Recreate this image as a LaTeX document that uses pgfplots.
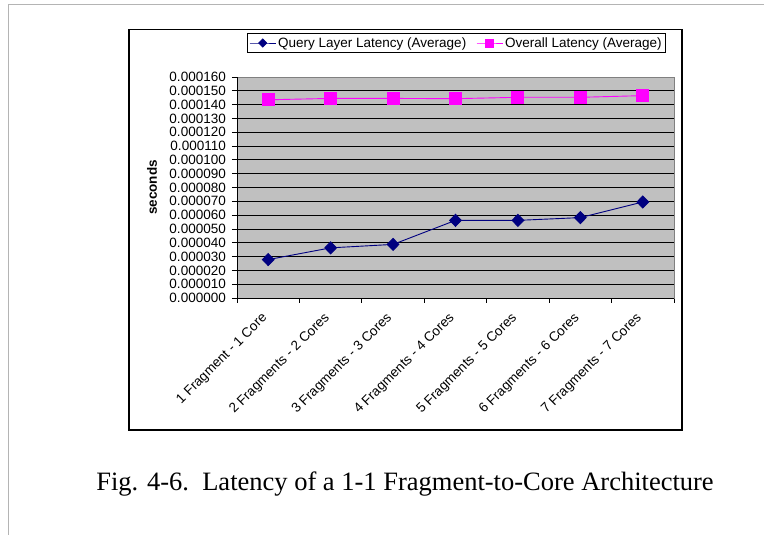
\documentclass[border=0pt]{standalone}
\usepackage{pgfplots}
\pgfplotsset{compat=1.18}
\usepackage{fontspec}
\setmainfont{Liberation Sans}
\newfontfamily\timesfont{Liberation Serif}
\definecolor{plotbg}{RGB}{192,192,192}
\definecolor{qnavy}{RGB}{0,0,128}
\definecolor{omag}{RGB}{255,0,255}
\definecolor{framegray}{RGB}{180,180,180}
\definecolor{bordergray}{RGB}{128,128,128}
\begin{document}
\begin{tikzpicture}[x=1pt,y=1pt]
\useasboundingbox (0,0) rectangle (764,535);
\draw[framegray, line width=1.7pt] (8.5,0) -- (8.5,530.5) -- (764,530.5);
\draw[black, line width=1.3pt] (129,105) rectangle (682,505.5);
\begin{axis}[
  at={(237pt,237pt)}, anchor=south west,
  width=437pt, height=221pt, scale only axis,
  xmin=0.5, xmax=7.5, ymin=0, ymax=0.00016,
  scaled y ticks=false,
  /pgf/number format/assume math mode=true,
  font=\fontsize{13.5}{15}\selectfont,
  xtick pos=bottom, ytick pos=left,
  ytick={0,0.00001,0.00002,0.00003,0.00004,0.00005,0.00006,0.00007,0.00008,0.00009,0.0001,0.00011,0.00012,0.00013,0.00014,0.00015,0.00016},
  yticklabels={0.000000,0.000010,0.000020,0.000030,0.000040,0.000050,0.000060,0.000070,0.000080,0.000090,0.000100,0.000110,0.000120,0.000130,0.000140,0.000150,0.000160},
  xtick={0.5,1.5,2.5,3.5,4.5,5.5,6.5,7.5},
  xticklabels={},
  extra x ticks={1,2,3,4,5,6,7},
  extra x tick labels={1 Fragment - 1 Core,2 Fragments - 2 Cores,3 Fragments - 3 Cores,4 Fragments - 4 Cores,5 Fragments - 5 Cores,6 Fragments - 6 Cores,7 Fragments - 7 Cores},
  extra x tick style={major tick length=0pt, xticklabel style={xshift=-3pt, yshift=-18pt, rotate=45, anchor=east, inner sep=0pt}},
  tick align=outside, major tick length=5pt,
  tick style={black, line width=0.8pt},
  yticklabel style={inner sep=0pt, xshift=-6pt},
  ymajorgrids, grid style={black, line width=0.8pt},
  axis background/.style={fill=plotbg},
  axis line style={bordergray, line width=0.8pt},
  ylabel={\bfseries seconds},
  ylabel style={at={(rel axis cs:-0.1945,0.5)}, anchor=center},
  legend columns=2,
  legend style={at={(0.5023,1.1538)}, anchor=center, draw=black, line width=0.6pt,
    font=\fontsize{13.5}{15}\selectfont, inner sep=2pt,
    /tikz/every even column/.append style={column sep=8pt}},
  legend image code/.code={\draw[mark repeat=2,mark phase=2,mark size=4pt] plot coordinates {(0pt,0pt)(13pt,0pt)(26pt,0pt)};},
  clip=false,
]
\addplot[qnavy, line width=0.9pt, mark=diamond*, mark size=6pt, mark options={xscale=1.3, fill=qnavy, draw=qnavy}]
  coordinates {(1,0.0000278) (2,0.0000363) (3,0.0000388) (4,0.0000562) (5,0.0000562) (6,0.0000582) (7,0.0000695)};
\addlegendentry{Query Layer Latency (Average)}
\addplot[omag, line width=0.9pt, mark=square*, mark size=6pt, mark options={fill=omag, draw=omag}]
  coordinates {(1,0.0001435) (2,0.0001445) (3,0.0001445) (4,0.0001443) (5,0.0001453) (6,0.0001453) (7,0.0001465)};
\addlegendentry{Overall Latency (Average)}
\draw[black, line width=0.8pt] (rel axis cs:0,0) -- (rel axis cs:0,1);
\draw[black, line width=0.8pt] (rel axis cs:0,0) -- (rel axis cs:1,0);
\end{axis}
\node[anchor=base, font=\timesfont\fontsize{26.5}{30}\selectfont] at (405,44) {Fig. 4-6.\ \ Latency of a 1-1 Fragment-to-Core Architecture};
\end{tikzpicture}
\end{document}
